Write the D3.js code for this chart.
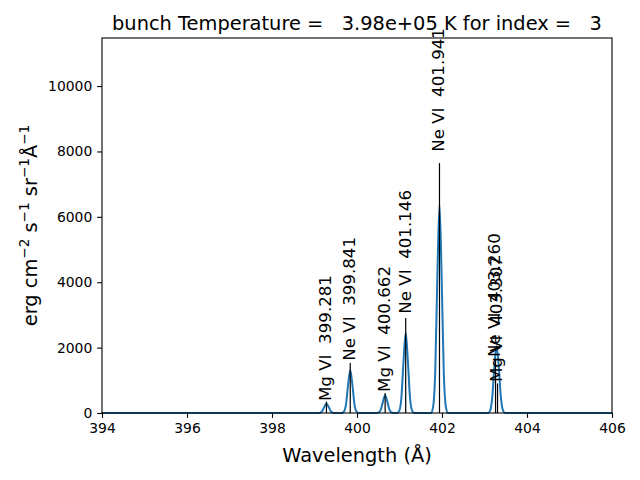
<!DOCTYPE html>
<html><head><meta charset="utf-8">
<script src="https://cdn.jsdelivr.net/npm/d3@7"></script>
<style>
html,body{margin:0;padding:0;background:#fff;}
text{font-family:"DejaVu Sans",sans-serif;white-space:pre;}
</style></head>
<body><svg id="chart" width="640" height="480"></svg>
<script>
// ---- data ----
const titleText = "bunch Temperature =   3.98e+05 K for index =   3";
const xLabelText = "Wavelength (Å)";
const xTicks = [394, 396, 398, 400, 402, 404, 406];
const yTicks = [0, 2000, 4000, 6000, 8000, 10000];
const xDomain = [394, 406];
const yDomain = [0, 11470];

// line list (black sticks + labels)
const lineIons = ["Mg VI", "Ne VI", "Mg VI", "Ne VI", "Ne VI", "Mg VI", "Ne VI"];
const lineWvl  = [399.281, 399.841, 400.662, 401.146, 401.941, 403.307, 403.260];
const lineInt  = [350, 1529, 615, 2905, 7645, 905, 1640];
const labelFactor = 1.045;

// convolved spectrum samples (wavelength, intensity)
const specWvl = [
  394.0,
  399.081, 399.131, 399.181, 399.231, 399.281, 399.331, 399.381, 399.431, 399.481,
  399.641, 399.691, 399.741, 399.791, 399.841, 399.891, 399.941, 399.991, 400.041,
  400.462, 400.512, 400.562, 400.612, 400.662, 400.712, 400.762, 400.812, 400.862,
  400.946, 400.996, 401.046, 401.096, 401.146, 401.196, 401.246, 401.296, 401.346,
  401.741, 401.791, 401.841, 401.891, 401.941, 401.991, 402.041, 402.091, 402.141,
  403.084, 403.134, 403.184, 403.234, 403.284, 403.334, 403.384, 403.434, 403.484,
  406.0
];
const specInt = [
  0,
  0, 9, 57, 189, 290, 189, 57, 9, 0,
  0, 39, 263, 868, 1315, 868, 263, 39, 0,
  0, 16, 108, 356, 540, 356, 108, 16, 0,
  0, 73, 489, 1614, 2446, 1614, 489, 73, 0,
  0, 191, 1276, 4211, 6380, 4211, 1276, 191, 0,
  0, 80, 500, 1450, 2050, 1450, 500, 80, 0,
  0
];

// ---- layout ----
const svg = d3.select("#chart");
const L = 102, R = 612, T = 38, B = 413;
const x = d3.scaleLinear().domain(xDomain).range([L, R]);
const y = d3.scaleLinear().domain(yDomain).range([B, T]);

// spectrum
const spec = specWvl.map((w, i) => [w, specInt[i]]);
svg.append("path")
  .datum(spec)
  .attr("fill", "none")
  .attr("stroke", "#1f77b4")
  .attr("stroke-width", 2)
  .attr("stroke-linejoin", "round")
  .attr("d", d3.line().x(d => x(d[0])).y(d => y(d[1])).curve(d3.curveMonotoneX));

// black sticks
const lines = lineWvl.map((w, i) => ({w, v: lineInt[i], ion: lineIons[i]}));
svg.append("g").selectAll("line").data(lines).join("line")
  .attr("x1", d => x(d.w)).attr("x2", d => x(d.w))
  .attr("y1", y(0)).attr("y2", d => y(d.v))
  .attr("stroke", "#000").attr("stroke-width", 1.2);

// labels
svg.append("g").selectAll("text").data(lines).join("text")
  .attr("transform", d => `translate(${x(d.w) + 4.8},${y(d.v * labelFactor)}) rotate(-90)`)
  .attr("text-anchor", "start")
  .attr("font-size", 16.67)
  .attr("fill", "#000")
  .text(d => d.ion + "  " + d.w.toFixed(3));

// axes
const xAxis = d3.axisBottom(x).tickValues(xTicks).tickSize(4.86).tickPadding(4.86).tickFormat(d3.format("d"));
const yAxis = d3.axisLeft(y).tickValues(yTicks).tickSize(4.86).tickPadding(4.86).tickFormat(d3.format("d"));
const gx = svg.append("g").attr("transform", `translate(0,${B})`).call(xAxis);
const gy = svg.append("g").attr("transform", `translate(${L},0)`).call(yAxis);
[gx, gy].forEach(g => {
  g.select(".domain").remove();
  g.selectAll(".tick line").attr("stroke", "#000").attr("stroke-width", 1.1);
  g.selectAll(".tick text").attr("font-size", 13.9).attr("fill", "#000")
    .attr("font-family", "DejaVu Sans");
});

// frame
svg.append("rect").attr("x", L).attr("y", T).attr("width", R - L).attr("height", B - T)
  .attr("fill", "none").attr("stroke", "#000").attr("stroke-width", 1.1);

// title
svg.append("text").attr("x", (L + R) / 2).attr("y", 30).attr("text-anchor", "middle")
  .attr("font-size", 19.4).attr("fill", "#000").text(titleText);

// x label
svg.append("text").attr("x", (L + R) / 2).attr("y", 462).attr("text-anchor", "middle")
  .attr("font-size", 19.4).attr("fill", "#000").text(xLabelText);

// y label with superscripts
const ylab = svg.append("text")
  .attr("transform", `translate(37,${(T + B) / 2}) rotate(-90)`)
  .attr("text-anchor", "middle").attr("font-size", 19.4).attr("fill", "#000");
const parts = [["erg cm", false], ["−2", true], [" s", false], ["−1", true], [" sr", false], ["−1", true], ["Å", false], ["−1", true]];
let raised = false;
parts.forEach(([t, sup]) => {
  const ts = ylab.append("tspan").text(t);
  if (sup && !raised) { ts.attr("dy", -8).attr("font-size", 13.6); raised = true; }
  else if (!sup && raised) { ts.attr("dy", 8); raised = false; }
  else if (sup) { ts.attr("font-size", 13.6); }
});
</script></body></html>
